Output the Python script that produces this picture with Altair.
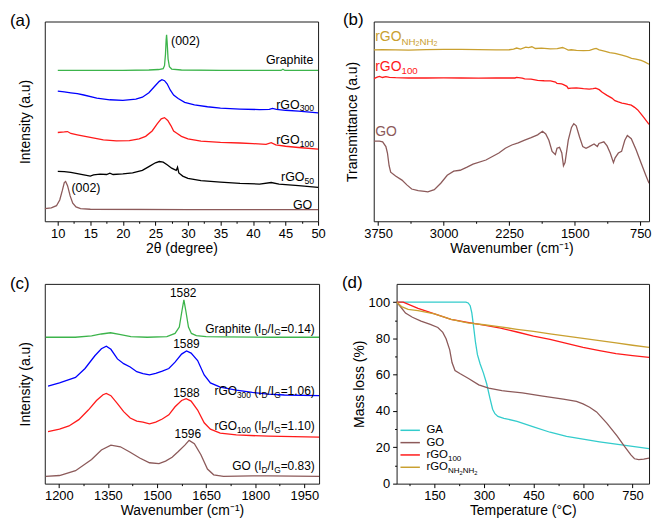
import altair as alt
import pandas as pd

FONT = "Liberation Sans"
GREEN = "#3cb44b"
BLUE = "#0000ff"
RED = "#ff1a1a"
BLACK = "#000000"
BROWN = "#8c5a5a"
GOLD = "#c9a030"
CYAN = "#33cccc"

# ---------------- (a) XRD ----------------
xrd_graphite_x = [10, 15, 20, 24, 25.5, 26.2, 26.4, 26.55, 26.65, 26.72, 26.8, 26.95, 27.15, 27.5, 29, 35, 40, 44.3, 44.6, 44.9, 46, 50]
xrd_graphite_y = [158, 158, 158.2, 158.5, 159, 160, 163, 175, 190, 195.3, 188, 170, 162, 159.5, 158.5, 158, 158, 158, 159.3, 158, 158, 158]
xrd_rgo300_x = [10, 11, 12, 13, 14, 16, 18, 20, 22, 23, 24, 25, 25.6, 26.0, 26.4, 26.8, 27.3, 27.8, 28.5, 29.5, 31, 33, 35, 38, 41, 42.5, 43, 43.6, 45, 47, 50]
xrd_rgo300_y = [136.3, 135.5, 134.6, 133.8, 132.3, 129, 127.3, 126.6, 128, 130, 134.6, 142.3, 146.6, 148.3, 147.3, 144, 137.3, 132.3, 128.6, 124.6, 122, 120, 118.6, 117.6, 117, 117.3, 118.3, 117.3, 116.3, 115.3, 113.6]
xrd_rgo100_x = [10, 11, 11.5, 12, 13, 15, 17, 19, 21, 22.5, 23.5, 24.5, 25.3, 25.9, 26.4, 26.9, 27.4, 27.8, 28.3, 29, 30, 32, 35, 38, 40, 42, 42.8, 43.5, 45, 47, 50]
xrd_rgo100_y = [93, 93.6, 94, 92, 90.6, 88, 85.3, 84.3, 84.6, 86.3, 89, 94.6, 102.3, 107.3, 108.6, 105.6, 100, 94.6, 92.3, 89, 86.3, 84, 82.6, 82, 81.3, 80.6, 82.3, 80, 78.6, 77.3, 75.6]
xrd_rgo50_x = [10, 11, 12, 13, 14, 15, 15.5, 16.5, 17.5, 18, 18.5, 20, 21.5, 23, 24, 25, 25.6, 26.2, 26.8, 27.5, 28.2, 28.4, 28.6, 29.2, 30, 32, 35, 38, 41, 42.8, 44, 47, 50]
xrd_rgo50_y = [52.3, 52, 51.3, 50, 48.6, 47.3, 48.6, 49.3, 49, 50.3, 49, 49.6, 50.6, 53.3, 57.3, 61.3, 62.6, 62, 59.3, 55.6, 53.3, 56.6, 50.6, 47.3, 45, 42.6, 41, 39.6, 39, 40.6, 39, 37.3, 35.6]
xrd_go_x = [8, 9, 9.8, 10.3, 10.7, 11.0, 11.2, 11.5, 11.9, 12.3, 12.8, 13.5, 15, 30, 50]
xrd_go_y = [13.3, 14, 16.3, 22.3, 32.3, 40.6, 41.6, 37.3, 26.6, 19, 15, 13.3, 12.6, 12.3, 12.3]

# ---------------- (b) FTIR ----------------
ir_n2h4_x = [3798, 3700, 3550, 3400, 3200, 3000, 2800, 2600, 2400, 2250, 2200, 2165, 2120, 2060, 2030, 1990, 1950, 1880, 1780, 1700, 1640, 1610, 1575, 1540, 1480, 1400, 1330, 1280, 1255, 1220, 1150, 1100, 1040, 960, 900, 850, 800, 740, 700, 650]
ir_n2h4_y = [179, 179.3, 179, 178.8, 179.3, 179.5, 179.5, 179.3, 179, 179.2, 179.8, 181, 179.8, 182, 181.5, 182.3, 180.5, 180.8, 180, 180.3, 181.5, 180.5, 178.8, 179.2, 178.5, 178.2, 178.5, 180, 180.6, 179, 177.5, 176.3, 175.5, 173.5, 172, 170.3, 169.5, 168, 166.5, 164]
ir_rgo100_x = [3798, 3760, 3735, 3700, 3661, 3620, 3550, 3400, 3200, 3000, 2800, 2600, 2400, 2183, 2165, 2100, 2073, 2000, 1925, 1850, 1777, 1720, 1703, 1650, 1629, 1590, 1574, 1540, 1481, 1400, 1334, 1290, 1260, 1220, 1186, 1130, 1075, 1040, 1001, 960, 927, 890, 853, 815, 779, 740, 706, 650]
ir_rgo100_y = [149, 150.5, 151.3, 150.2, 151, 150.3, 150, 149.7, 149.7, 149.8, 149.7, 149.6, 149.7, 149.7, 150.3, 149.5, 148.7, 148.5, 147.3, 146.8, 146.7, 145.5, 144, 143.5, 142.7, 141, 138.7, 139, 139.3, 138.5, 138, 138.5, 139, 137.5, 134.7, 131.5, 128.7, 126, 124.7, 123.5, 123, 122, 121.3, 119, 116.3, 112, 108, 101.3]
ir_go_x = [3798, 3735, 3698, 3661, 3643, 3624, 3606, 3550, 3477, 3421, 3366, 3292, 3218, 3181, 3107, 3033, 2959, 2885, 2812, 2738, 2664, 2516, 2368, 2294, 2220, 2147, 2073, 1999, 1925, 1869, 1832, 1796, 1759, 1722, 1703, 1674, 1648, 1629, 1611, 1574, 1537, 1511, 1483, 1445, 1408, 1371, 1334, 1279, 1241, 1223, 1167, 1130, 1094, 1057, 1038, 1001, 964, 927, 898, 853, 798, 743, 687, 650]
ir_go_y = [83.7, 83.7, 83, 78, 71.3, 58, 51.3, 47.3, 43, 38, 33.7, 32, 31.3, 30.7, 33, 39.7, 48, 52.3, 53.3, 56.3, 59.7, 64, 71.3, 76.3, 79.7, 82, 84.7, 87.3, 90.3, 94, 91.3, 84.7, 73, 69.7, 76.3, 77.3, 71.3, 58, 61.3, 84.7, 98, 102, 99.7, 88, 78, 76.3, 78, 80.7, 78, 81.3, 83, 78.7, 71.3, 61.3, 66.3, 71.3, 73, 84.7, 89.7, 86.3, 74.7, 61.3, 48, 39.7]

# ---------------- (c) Raman ----------------
ra_graphite_x = [1160, 1250, 1300, 1330, 1358, 1385, 1420, 1470, 1530, 1555, 1568, 1576, 1582, 1588, 1596, 1605, 1620, 1650, 1700, 1850, 1995]
ra_graphite_y = [152.8, 152.8, 154.2, 156.2, 157.5, 155.8, 153.5, 152.8, 153.5, 156.8, 163.5, 180.2, 191.8, 180.2, 163.5, 156.8, 154.5, 153.5, 153.2, 152.8, 152.8]
ra_rgo300_x = [1167, 1202, 1231, 1251, 1280, 1310, 1330, 1345, 1359, 1379, 1398, 1418, 1438, 1457, 1477, 1496, 1516, 1536, 1555, 1575, 1590, 1604, 1624, 1644, 1663, 1693, 1742, 1791, 1840, 1889, 1995]
ra_rgo300_y = [101.8, 105.2, 108.5, 110.8, 120.2, 133.5, 140.8, 143.5, 140.2, 130.2, 125.2, 121.8, 116.8, 114.8, 113.5, 115.2, 117.5, 120.2, 126.8, 135.2, 138.5, 136.2, 128.5, 113.5, 105.2, 100.8, 97.5, 95.2, 93.5, 92.5, 91.8]
ra_rgo100_x = [1167, 1202, 1231, 1261, 1290, 1315, 1335, 1345, 1359, 1379, 1398, 1418, 1438, 1457, 1477, 1496, 1516, 1536, 1555, 1575, 1589, 1604, 1624, 1644, 1663, 1693, 1742, 1840, 1995]
ra_rgo100_y = [54.2, 56.8, 60.2, 66.8, 76.8, 86.8, 92.8, 94.2, 91.8, 83.5, 75.2, 68.5, 65.2, 64.2, 62.5, 64.2, 67.5, 71.8, 80.2, 86.8, 88.7, 86.2, 76.8, 63.5, 56.8, 52.8, 50.8, 49.5, 48.5]
ra_go_x = [1160, 1202, 1251, 1300, 1330, 1359, 1388, 1418, 1447, 1477, 1506, 1526, 1546, 1565, 1585, 1598, 1614, 1634, 1654, 1673, 1703, 1791, 1840, 1995]
ra_go_y = [7.5, 8.5, 13.5, 25.2, 35.2, 40.2, 38.5, 32.8, 26.8, 21.8, 20.8, 23.5, 27.5, 33.5, 40.2, 45.2, 41.8, 30.2, 15.2, 9.2, 7.5, 8.2, 8.2, 7.5]

# ---------------- (d) TGA ----------------
tga_ga_x = [35, 100, 150, 200, 245, 252, 258, 263, 268, 274, 280, 288, 298, 308, 318, 326, 333, 342, 360, 400, 450, 500, 550, 600, 650, 700, 750, 800]
tga_ga_y = [100, 100, 100, 100, 100, 99.5, 98, 94, 87, 78, 71, 66, 61, 55, 47, 41, 38.5, 37, 36, 34.3, 31.3, 28.3, 26, 24.5, 23, 21.7, 20.5, 19.3]
tga_go_x = [35, 47, 62, 83, 109, 137, 160, 175, 185, 196, 203, 212, 228, 253, 284, 314, 354, 416, 478, 540, 580, 600, 620, 641, 672, 703, 724, 745, 756, 769, 784, 800]
tga_go_y = [100, 97.4, 93.9, 91.6, 89.5, 87.7, 86, 83.3, 79.8, 73.7, 66.7, 62.3, 60.5, 57.9, 54.4, 52.6, 51.2, 50, 48.2, 46.5, 45.3, 43.9, 42.1, 39.5, 33.3, 26.3, 21, 15.8, 13.7, 13.2, 13.5, 14]
tga_rgo100_x = [35, 55, 100, 150, 200, 250, 300, 350, 400, 450, 500, 550, 600, 650, 700, 750, 800]
tga_rgo100_y = [100, 100, 96.5, 93.5, 90.5, 88.8, 87.3, 85.6, 83.5, 81.2, 79.5, 77.2, 75, 73.2, 71.6, 70.5, 69.5]
tga_n2h4_x = [35, 50, 70, 100, 150, 200, 250, 300, 350, 400, 450, 500, 550, 600, 650, 700, 750, 800]
tga_n2h4_y = [100, 97.5, 96, 95.3, 93.5, 90.5, 88.5, 87.5, 86.3, 85, 83.9, 82.5, 81.2, 80, 78.8, 77.5, 76.2, 75]

# ---------------- helpers ----------------
CW = {' ': 278, '(': 333, ')': 333, '.': 278, '/': 278, '=': 584, 'A': 667, 'C': 722,
      'D': 722, 'G': 778, 'H': 722, 'I': 278, 'N': 722, 'O': 778, 'a': 556, 'e': 556,
      'h': 556, 'i': 222, 'p': 556, 'r': 333, 't': 278}
LEVEL_SCALE = [1.0, 0.7, 0.5]
LEVEL_DY = [0.0, 0.32, 0.5]


def tw(s, size):
    return sum(CW.get(c, 556) for c in s) / 1000.0 * size


def layout_segments(segs, size):
    """Split segments into (text, font size, dy, x offset) with leading blanks turned into offset."""
    out = []
    cur = 0.0
    for t, lvl in segs:
        fs = size * LEVEL_SCALE[lvl]
        stripped = t.lstrip(' ')
        cur += tw(t[:len(t) - len(stripped)], fs)
        out.append((stripped, fs, size * LEVEL_DY[lvl], cur))
        cur += tw(stripped, fs)
    return out, cur


def rich(segs, x, y, X, Y, size, color, align):
    pieces, total = layout_segments(segs, size)
    shift = {'left': 0.0, 'right': -total, 'center': -total / 2}[align]
    src = pd.DataFrame({'x': [x], 'y': [y]})
    layers = []
    for t, fs, dy, off in pieces:
        layers.append(alt.Chart(src).mark_text(
            text=t, align='left', baseline='middle', dx=shift + off, dy=dy,
            fontSize=fs, color=color, font=FONT).encode(x=X, y=Y))
    return layers


def lines_df(series):
    rows = []
    for name, col, xs, ys in series:
        for i, (a, b) in enumerate(zip(xs, ys)):
            rows.append({'s': name, 'c': col, 'i': i, 'x': a, 'y': b})
    return pd.DataFrame(rows)


def tick_axis(title, values, major, orient, **kw):
    return alt.Axis(
        title=title, values=values, orient=orient, format='d',
        labelExpr=f"datum.value % {major} === 0 ? datum.label : ''",
        tickSize={"condition": {"test": f"datum.value % {major} === 0", "value": 4}, "value": 2},
        domain=False, grid=False, labelFlush=False, labelOverlap=False, **kw)


def blank_y(title, pad):
    return alt.Axis(title=title, ticks=False, labels=False, domain=False, grid=False,
                    titlePadding=pad)


def panel(series, X, Y, w, h, extra, tag, tag_dx, tag_dy):
    df = lines_df(series)
    base = alt.Chart(df).mark_line(strokeWidth=1.3, clip=True).encode(
        x=X, y=Y,
        color=alt.Color('c:N', scale=None),
        detail='s:N',
        order='i:Q')
    tag_layer = alt.Chart(pd.DataFrame({'t': [tag]})).mark_text(
        align='left', baseline='middle', fontSize=17, font=FONT, color='black').encode(
        x=alt.value(tag_dx), y=alt.value(tag_dy), text='t:N')
    return alt.layer(base, *extra, tag_layer).properties(width=w, height=h)


# ---------------- panel (a) ----------------
WA, HA = 275, 201
Xa = alt.X('x:Q', scale=alt.Scale(domain=[8, 50], nice=False, zero=False),
           axis=tick_axis('2θ (degree)', [10 + 2.5 * k for k in range(17)], 5, 'bottom',
                          labelPadding=2, titlePadding=1))
Ya = alt.Y('y:Q', scale=alt.Scale(domain=[0, 209.3], nice=False, zero=False),
           axis=blank_y('Intensity (a.u)', 12))
lab_a = []
lab_a += rich([('(002)', 0)], 27.4, 189, Xa, Ya, 12.5, BLACK, 'left')
lab_a += rich([('Graphite', 0)], 49.3, 169, Xa, Ya, 12.5, BLACK, 'right')
lab_a += rich([('rGO', 0), ('300', 1)], 49.4, 122.3, Xa, Ya, 12.5, BLACK, 'right')
lab_a += rich([('rGO', 0), ('100', 1)], 49.4, 84.6, Xa, Ya, 12.5, BLACK, 'right')
lab_a += rich([('rGO', 0), ('50', 1)], 49.4, 46.3, Xa, Ya, 12.5, BLACK, 'right')
lab_a += rich([('GO', 0)], 49.1, 17.3, Xa, Ya, 12.5, BLACK, 'right')
lab_a += rich([('(002)', 0)], 12.1, 34.6, Xa, Ya, 12.5, BLACK, 'left')
pa = panel([('Graphite', GREEN, xrd_graphite_x, xrd_graphite_y),
            ('rGO300', BLUE, xrd_rgo300_x, xrd_rgo300_y),
            ('rGO100', RED, xrd_rgo100_x, xrd_rgo100_y),
            ('rGO50', BLACK, xrd_rgo50_x, xrd_rgo50_y),
            ('GO', BROWN, xrd_go_x, xrd_go_y)],
           Xa, Ya, WA, HA, lab_a, '(a)', -35, 0)

# ---------------- panel (b) ----------------
WB, HB = 277, 201
Xb = alt.X('x:Q', scale=alt.Scale(domain=[650, 3800], reverse=True, nice=False, zero=False),
           axis=tick_axis('Wavenumber (cm⁻¹)', [750 + 375 * k for k in range(9)], 750, 'bottom',
                          labelPadding=2, titlePadding=1))
Yb = alt.Y('y:Q', scale=alt.Scale(domain=[0, 208.7], nice=False, zero=False),
           axis=blank_y('Transmittance (a.u)', 14))
lab_b = []
lab_b += rich([('rGO', 0), ('NH', 1), ('2', 2), ('NH', 1), ('2', 2)], 3783, 192, Xb, Yb, 14, GOLD, 'left')
lab_b += rich([('rGO', 0), ('100', 1)], 3783, 161.3, Xb, Yb, 14, RED, 'left')
lab_b += rich([('GO', 0)], 3783, 93, Xb, Yb, 14, BROWN, 'left')
pb = panel([('rGO_N2H4', GOLD, ir_n2h4_x, ir_n2h4_y),
            ('rGO100', RED, ir_rgo100_x, ir_rgo100_y),
            ('GO', BROWN, ir_go_x, ir_go_y)],
           Xb, Yb, WB, HB, lab_b, '(b)', -31, -1)

# ---------------- panel (c) ----------------
WC, HC = 276, 201
Xc = alt.X('x:Q', scale=alt.Scale(domain=[1157, 1995], nice=False, zero=False),
           axis=tick_axis('Wavenumber (cm⁻¹)', [1200 + 75 * k for k in range(11)], 150, 'bottom',
                          labelPadding=2, titlePadding=1))
Yc = alt.Y('y:Q', scale=alt.Scale(domain=[0, 208.5], nice=False, zero=False),
           axis=blank_y('Intensity (a.u)', 12))
lab_c = []
lab_c += rich([('1582', 0)], 1580, 198.5, Xc, Yc, 12, BLACK, 'center')
lab_c += rich([('Graphite (I', 0), ('D', 1), ('/I', 0), ('G', 1), ('=0.14)', 0)], 1982, 161.8, Xc, Yc, 12, BLACK, 'right')
lab_c += rich([('1589', 0)], 1590, 145.5, Xc, Yc, 12, BLACK, 'center')
lab_c += rich([('rGO', 0), ('300', 1), (' (I', 0), ('D', 1), ('/I', 0), ('G', 1), ('=1.06)', 0)], 1982, 96.8, Xc, Yc, 12, BLACK, 'right')
lab_c += rich([('1588', 0)], 1590, 95, Xc, Yc, 12, BLACK, 'center')
lab_c += rich([('rGO', 0), ('100', 1), (' (I', 0), ('D', 1), ('/I', 0), ('G', 1), ('=1.10)', 0)], 1982, 60.2, Xc, Yc, 12, BLACK, 'right')
lab_c += rich([('1596', 0)], 1594, 52, Xc, Yc, 12, BLACK, 'center')
lab_c += rich([('GO (I', 0), ('D', 1), ('/I', 0), ('G', 1), ('=0.83)', 0)], 1982, 18.5, Xc, Yc, 12, BLACK, 'right')
pc = panel([('Graphite', GREEN, ra_graphite_x, ra_graphite_y),
            ('rGO300', BLUE, ra_rgo300_x, ra_rgo300_y),
            ('rGO100', RED, ra_rgo100_x, ra_rgo100_y),
            ('GO', BROWN, ra_go_x, ra_go_y)],
           Xc, Yc, WC, HC, lab_c, '(c)', -35, 0)

# ---------------- panel (d) ----------------
WD, HD = 254, 201
Xd = alt.X('x:Q', scale=alt.Scale(domain=[35, 800], nice=False, zero=False),
           axis=tick_axis('Temperature (°C)', [75 * k for k in range(1, 11)], 150, 'bottom',
                          labelPadding=2, titlePadding=1))
Yd = alt.Y('y:Q', scale=alt.Scale(domain=[0, 110], nice=False, zero=False),
           axis=tick_axis('Mass loss (%)', [10 * k for k in range(11)], 20, 'left',
                          labelPadding=3, titlePadding=2))
legend_entries = [
    ([('GA', 0)], CYAN),
    ([('GO', 0)], BROWN),
    ([('rGO', 0), ('100', 1)], RED),
    ([('rGO', 0), ('NH', 1), ('2', 2), ('NH', 1), ('2', 2)], GOLD),
]
LEG_FS = 11.5
lab_d = []
for k, (segs, col) in enumerate(legend_entries):
    ypix = HD * 0.733 + 12.4 * k
    lab_d.append(alt.Chart(pd.DataFrame({'k': [k]})).mark_rule(color=col, strokeWidth=1.5).encode(
        x=alt.value(WD * 0.0154), x2=alt.value(WD * 0.0923), y=alt.value(ypix)))
    pieces, _ = layout_segments(segs, LEG_FS)
    x0 = WD * 0.118
    for t, fs, dy, off in pieces:
        lab_d.append(alt.Chart(pd.DataFrame({'t': [t]})).mark_text(
            align='left', baseline='middle', fontSize=fs, font=FONT, color='black',
            dy=dy).encode(x=alt.value(x0 + off), y=alt.value(ypix), text='t:N'))
pd_ = panel([('GA', CYAN, tga_ga_x, tga_ga_y),
             ('GO', BROWN, tga_go_x, tga_go_y),
             ('rGO100', RED, tga_rgo100_x, tga_rgo100_y),
             ('rGO_N2H4', GOLD, tga_n2h4_x, tga_n2h4_y)],
            Xd, Yd, WD, HD, lab_d, '(d)', -55, -1)

row1 = alt.hconcat(pa, pb, spacing=56, bounds='flush')
row2 = alt.hconcat(pc, pd_, spacing=78, bounds='flush')
chart = alt.vconcat(row1, row2, spacing=17).properties(
    padding={"left": 1, "top": 1, "right": 1, "bottom": 1}
).configure(font=FONT).configure_view(
    stroke='#1a1a1a', strokeWidth=1
).configure_axis(
    labelFont=FONT, titleFont=FONT, labelFontSize=13, titleFontSize=14,
    labelColor='black', titleColor='black', tickColor='black', tickWidth=1,
    titleFontWeight='normal'
)

chart.save("out.html", embed_options={"renderer": "svg", "actions": False})
